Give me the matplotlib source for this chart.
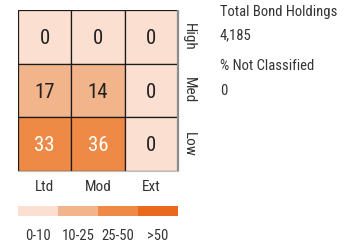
import matplotlib
matplotlib.use('Agg')
import matplotlib.pyplot as plt
import numpy as np

plt.rcParams['font.family'] = ['Roboto Condensed', 'DejaVu Sans']

# data
cols = ['Ltd', 'Mod', 'Ext']
rows = ['High', 'Med', 'Low']
values = [[0, 0, 0],
          [17, 14, 0],
          [33, 36, 0]]
bins = [10, 25, 50]
bin_labels = ['0-10', '10-25', '25-50', '>50']
bin_colors = ['#fbe0d2', '#f2b48a', '#ee8a45', '#e96a1c']
side_labels = ['Total Bond Holdings', '4,185', '% Not Classified', '0']

W, H = 351, 249
fig = plt.figure(figsize=(W / 100, H / 100), dpi=100)


def ax_px(x0, y0, x1, y1):
    return fig.add_axes([x0 / W, 1 - y1 / H, (x1 - x0) / W, (y1 - y0) / H])


def fy(y):
    return 1 - y / H


ax = ax_px(18, 10, 178, 171)
ax.set_xlim(0, 3)
ax.set_ylim(3, 0)
ax.axis('off')
for r in range(3):
    for c in range(3):
        v = values[r][c]
        k = int(np.searchsorted(bins, v, side='left'))
        ax.add_patch(plt.Rectangle((c, r), 1, 1, facecolor=bin_colors[k],
                                   edgecolor='#1a1a1a', lw=0.9))
        ax.text(c + 0.5, r + 0.53, str(v), ha='center', va='center', fontsize=15,
                color='white' if k >= 2 else '#222222')
# shadow on right and bottom
ax.plot([3, 3], [0, 3], color='#8c8c8c', lw=1.6, clip_on=False, solid_capstyle='butt')
ax.plot([0, 3], [3, 3], color='#bbbbbb', lw=0.8, clip_on=False)

# row labels (rotated, right of grid)
for r, lab in enumerate(rows):
    fig.text(189 / W, fy(10 + 53.7 * (r + 0.5)), lab, rotation=-90, ha='center', va='center',
             fontsize=11, color='#333333')
for c, lab in enumerate(cols):
    fig.text((18 + 53.3 * (c + 0.5)) / W, fy(187), lab, ha='center', va='center',
             fontsize=11, color='#333333')

# legend bar
lax = ax_px(18, 206, 178, 216)
lax.set_xlim(0, 4)
lax.set_ylim(0, 1)
lax.axis('off')
for i, col in enumerate(bin_colors):
    lax.add_patch(plt.Rectangle((i, 0), 1, 1, facecolor=col, edgecolor='none'))
for i, lab in enumerate(bin_labels):
    fig.text((18 + 40 * (i + 0.5)) / W, fy(235.5), lab, ha='center', va='center',
             fontsize=10.5, color='#333333')

# side text
ys = [12, 35, 66, 91]
for y, t in zip(ys, side_labels):
    fig.text(220 / W, fy(y), t, ha='left', va='center', fontsize=10.5, color='#333333')

fig.savefig('out.png', dpi=100)
